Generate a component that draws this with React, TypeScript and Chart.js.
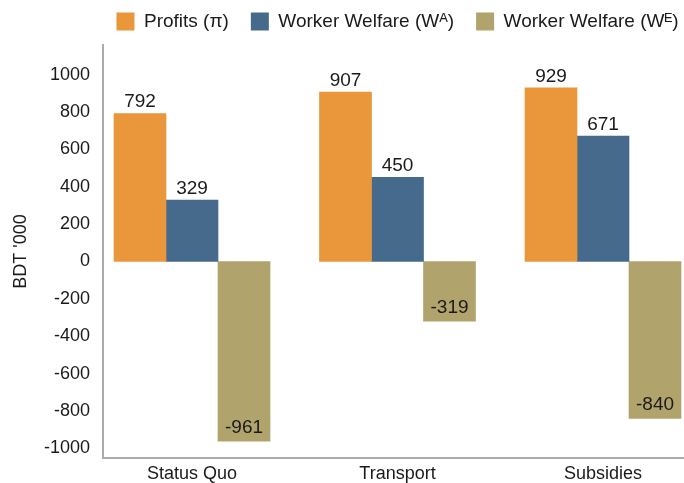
import React, { useEffect, useRef } from "react";
import { Chart, registerables } from "chart.js";

Chart.register(...registerables);

const categories = ["Status Quo", "Transport", "Subsidies"];
const profits = [792, 907, 929];
const welfareA = [329, 450, 671];
const welfareE = [-961, -319, -840];
const seriesLabels = ["Profits (π)", "Worker Welfare (Wᴬ)", "Worker Welfare (Wᴱ)"];
const seriesColors = ["#E9973A", "#466A8C", "#B1A36C"];
const yTicks = [-1000, -800, -600, -400, -200, 0, 200, 400, 600, 800, 1000];

const FONT = "'Liberation Sans', Arial, sans-serif";
const LEGEND_HEIGHT = 55;

const valueLabels = {
  id: "valueLabels",
  afterDatasetsDraw(chart: any) {
    const ctx = chart.ctx;
    ctx.save();
    ctx.font = `19px ${FONT}`;
    ctx.fillStyle = "#1a1a1a";
    ctx.textAlign = "center";
    ctx.textBaseline = "alphabetic";
    chart.data.datasets.forEach((ds: any, di: number) => {
      const meta = chart.getDatasetMeta(di);
      meta.data.forEach((bar: any, i: number) => {
        const v = ds.data[i].y;
        const txt = String(v);
        if (v >= 0) {
          ctx.fillText(txt, bar.x, bar.y - 6);
        } else {
          ctx.fillText(txt, bar.x, bar.y - 8);
        }
      });
    });
    ctx.restore();
  },
};

const legendFit = {
  id: "legendFit",
  afterInit(chart: any) {
    const lg = chart.legend;
    if (!lg) return;
    const orig = lg.fit;
    lg.fit = function () {
      this.maxWidth = 1000;
      orig.call(this);
      this.height = LEGEND_HEIGHT;
    };
  },
  afterLayout(chart: any) {
    const lg = chart.legend;
    if (!lg) return;
    lg.left -= 92;
    lg.right += 100;
  },
};

export default function App() {
  const ref = useRef<HTMLCanvasElement>(null);
  useEffect(() => {
    document.body.style.margin = "0";
    const pxPerUnit = 0.1869;
    const zeroY = 261.5;
    const top = 45;
    const bottom = 458;
    const yMax = (zeroY - top) / pxPerUnit;
    const yMin = -(bottom - zeroY) / pxPerUnit;
    const left = 103;
    const right = 684;
    const spacing = 205.5;
    const firstCenter = 192;
    const xMin = -(firstCenter - left) / spacing;
    const xMax = (right - firstCenter) / spacing;

    const datasets = [profits, welfareA, welfareE].map((arr, k) => ({
      label: seriesLabels[k],
      data: arr.map((v, i) => ({ x: i, y: v })),
      backgroundColor: seriesColors[k],
      borderWidth: 0,
      barThickness: 52,
    }));

    const chart = new Chart(ref.current!, {
      type: "bar",
      data: { datasets },
      plugins: [valueLabels, legendFit],
      options: {
        animation: false,
        responsive: true,
        maintainAspectRatio: false,
        layout: { padding: { top: -10, left: 0, right: 0, bottom: 0 } },
        plugins: {
          tooltip: { enabled: false },
          legend: {
            position: "top",
            fullSize: false,
            labels: {
              boxWidth: 18,
              boxHeight: 18,
              padding: 22,
              color: "#1a1a1a",
              font: { family: FONT, size: 19 },
            },
          },
        },
        scales: {
          x: {
            type: "linear",
            offset: false,
            min: xMin,
            max: xMax,
            grid: { display: false, drawTicks: false, offset: false },
            border: { display: true, color: "#ababab", width: 2 },
            afterBuildTicks: (scale: any) => {
              scale.ticks = categories.map((_, i) => ({ value: i }));
            },
            afterFit: (scale: any) => {
              scale.height = 25;
            },
            ticks: {
              padding: 5,
              color: "#1a1a1a",
              font: { family: FONT, size: 18 },
              callback: (v: any) => categories[Math.round(Number(v))] ?? "",
            },
          },
          y: {
            type: "linear",
            min: yMin,
            max: yMax,
            grid: { display: false, drawTicks: false },
            border: { display: true, color: "#ababab", width: 2 },
            afterBuildTicks: (scale: any) => {
              scale.ticks = yTicks.map((v) => ({ value: v }));
            },
            afterFit: (scale: any) => {
              scale.width = left;
            },
            ticks: {
              padding: 13,
              color: "#1a1a1a",
              font: { family: FONT, size: 18 },
              callback: (v: any) => String(v),
            },
            title: {
              display: true,
              text: "BDT '000",
              color: "#1a1a1a",
              font: { family: FONT, size: 18 },
              padding: { top: 10, bottom: 0 },
            },
          },
        },
      },
    });
    return () => chart.destroy();
  }, []);
  return (
    <div style={{ width: 684, height: 483, position: "relative" }}>
      <canvas ref={ref} />
    </div>
  );
}
